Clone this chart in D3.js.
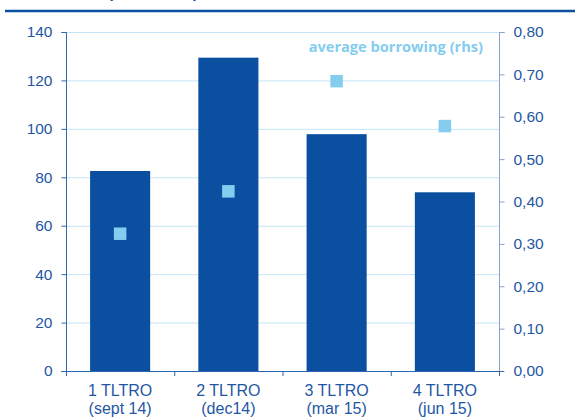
<!DOCTYPE html>
<html><head><meta charset="utf-8">
<script src="https://cdn.jsdelivr.net/npm/d3@7/dist/d3.min.js"></script>
<style>body{margin:0;background:#fff}svg{display:block}</style>
</head><body>
<script>
const categories = ["1 TLTRO|(sept 14)", "2 TLTRO|(dec14)", "3 TLTRO|(mar 15)", "4 TLTRO|(jun 15)"];
const takeUp = [82.6, 129.4, 97.8, 73.8];
const avgBorrowing = [0.324, 0.424, 0.684, 0.578];
const leftTicks = [0, 20, 40, 60, 80, 100, 120, 140];
const rightTicks = [0, 0.1, 0.2, 0.3, 0.4, 0.5, 0.6, 0.7, 0.8];
const legendLabel = "average borrowing (rhs)";

(function () {
const W = 575, H = 420;
const svg = d3.select("body").append("svg").attr("width", W).attr("height", H);
const pl = 66, pr = 499, pt = 32, pb = 371;
const blue = "#0b4fa0", txt = "#1f57a4", sq = "#85cdef", grid = "#c4e6f6";
const font = "Liberation Sans, Arial, sans-serif";

// cut-off title remnant and top rule
svg.append("text").attr("x", 108).attr("y", -2).attr("font-family", font)
  .attr("font-size", 15).attr("font-weight", "bold").attr("fill", blue).text("(EUR billion)");
svg.append("line").attr("x1", 5).attr("x2", 575).attr("y1", 11).attr("y2", 11)
  .attr("stroke", blue).attr("stroke-width", 2.5);

const x = d3.scaleBand().domain(categories).range([pl, pr]).paddingInner(0.445).paddingOuter(0.2225);
const y = d3.scaleLinear().domain([0, 140]).range([pb, pt]);
const y2 = d3.scaleLinear().domain([0, 0.8]).range([pb, pt]);

// grid
svg.append("g").selectAll("line").data(leftTicks.filter(d => d > 0)).join("line")
  .attr("x1", pl).attr("x2", pr).attr("y1", d => y(d) + 0.5).attr("y2", d => y(d) + 0.5)
  .attr("stroke", grid).attr("stroke-width", 1);

// bars
svg.append("g").selectAll("rect").data(takeUp).join("rect")
  .attr("x", (d, i) => x(categories[i])).attr("width", x.bandwidth())
  .attr("y", d => y(d)).attr("height", d => y(0) - y(d))
  .attr("fill", blue);

// left axis
const ga = svg.append("g").attr("transform", `translate(${pl + 0.5},0)`)
  .call(d3.axisLeft(y).tickValues(leftTicks).tickSize(5).tickPadding(9).tickFormat(d3.format("d")));
ga.select(".domain").attr("stroke", "#2f66b3").attr("d", `M-5,${pt + 0.5}H0V${pb}`);
ga.selectAll(".tick line").attr("stroke", "#2f66b3");
ga.selectAll("text").attr("fill", txt).attr("font-size", 15.5).attr("font-family", font);

// right axis
const fmt = d => d.toFixed(2).replace(".", ",");
const gr = svg.append("g").attr("transform", `translate(${pr + 0.5},0)`)
  .call(d3.axisRight(y2).tickValues(rightTicks).tickSize(5).tickPadding(9).tickFormat(fmt));
gr.select(".domain").attr("stroke", "#8c9fcb").attr("d", `M5,${pt + 0.5}H0V${pb + 5}`);
gr.selectAll(".tick line").attr("stroke", "#8c9fcb");
gr.selectAll("text").attr("fill", txt).attr("font-size", 15.5).attr("font-family", font);

// bottom axis
const step = x.step();
const start = x(categories[0]) - x.paddingOuter() * step;
const bounds = d3.range(categories.length + 1).map(i => start + i * step);
const gb = svg.append("g");
gb.append("line").attr("x1", pl - 5).attr("x2", pr + 5).attr("y1", pb + 0.5).attr("y2", pb + 0.5)
  .attr("stroke", "#2f66b3").attr("stroke-width", 1.2);
gb.selectAll("line.t").data(bounds).join("line").attr("class", "t")
  .attr("x1", d => d + 0.5).attr("x2", d => d + 0.5).attr("y1", pb).attr("y2", pb + 5)
  .attr("stroke", "#2f66b3");
const labs = gb.selectAll("text").data(categories).join("text")
  .attr("text-anchor", "middle").attr("fill", txt).attr("font-size", 16)
  .attr("font-family", font);
labs.append("tspan").attr("x", d => x(d) + x.bandwidth() / 2).attr("y", 396).text(d => d.split("|")[0]);
labs.append("tspan").attr("x", d => x(d) + x.bandwidth() / 2).attr("y", 414).text(d => d.split("|")[1]);

// squares
const s = 12.5;
svg.append("g").selectAll("rect").data(avgBorrowing).join("rect")
  .attr("x", (d, i) => x(categories[i]) + x.bandwidth() / 2 - s / 2).attr("y", d => y2(d) - s / 2)
  .attr("width", s).attr("height", s).attr("fill", sq);

// legend
svg.append("text").attr("x", 483).attr("y", 52).attr("text-anchor", "end")
  .attr("font-family", "Open Sans, Lato, sans-serif").attr("font-weight", "bold").attr("font-size", 14.6)
  .attr("fill", sq).text(legendLabel);
})();
</script>
</body></html>
